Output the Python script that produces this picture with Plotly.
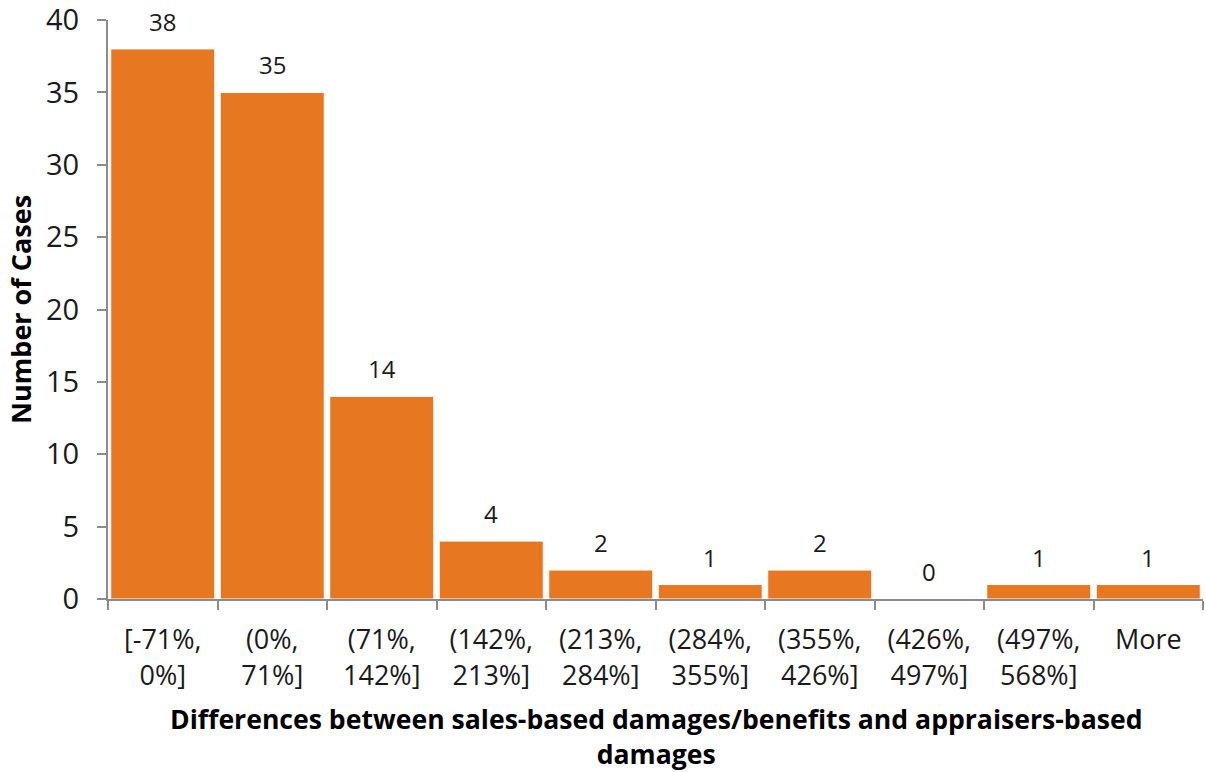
import plotly.graph_objects as go

categories = ["[-71%,<br>0%]", "(0%,<br>71%]", "(71%,<br>142%]", "(142%,<br>213%]", "(213%,<br>284%]",
              "(284%,<br>355%]", "(355%,<br>426%]", "(426%,<br>497%]", "(497%,<br>568%]", "More"]
counts = [38, 35, 14, 4, 2, 1, 2, 0, 1, 1]
y_ticks = [0, 5, 10, 15, 20, 25, 30, 35, 40]

FONT = "Open Sans"
BAR = "#E87722"
AXIS = "#8C8C8C"

fig = go.Figure()
fig.add_trace(go.Bar(
    x=categories, y=counts,
    marker=dict(color=BAR, line=dict(color="white", width=1)),
    hoverinfo="skip",
))

for c, v in zip(categories, counts):
    fig.add_annotation(x=c, y=v, text=str(v), showarrow=False, yanchor="bottom",
                       yshift=9, font=dict(family=FONT, size=24, color="#1a1a1a"))

fig.add_annotation(xref="paper", yref="paper", x=0.5, y=-0.173, yanchor="top",
                   text="<b>Differences between sales-based damages/benefits and appraisers-based<br>damages</b>",
                   showarrow=False, font=dict(family=FONT, size=26.6, color="#000000"))
fig.add_annotation(xref="paper", yref="paper", x=-0.08, y=0.5, xanchor="center", textangle=-90,
                   text="<b>Number of Cases</b>", showarrow=False,
                   font=dict(family=FONT, size=27, color="#000000"))

fig.update_layout(
    width=1206, height=772,
    margin=dict(l=108, r=3, t=20, b=173),
    paper_bgcolor="white", plot_bgcolor="white",
    bargap=0.05,
    showlegend=False,
    font=dict(family=FONT, color="#1a1a1a"),
)
fig.update_xaxes(
    type="category", tickson="boundaries", ticks="outside", ticklen=9, tickcolor=AXIS, tickwidth=2,
    showline=True, linecolor=AXIS, linewidth=2, showgrid=False, automargin=False,
    tickfont=dict(family=FONT, size=27, color="#1a1a1a"), ticklabelstandoff=16,
)
fig.update_yaxes(
    range=[0, 40], tickvals=y_ticks, ticks="outside", ticklen=9, tickcolor=AXIS, tickwidth=2,
    showline=True, linecolor=AXIS, linewidth=2, showgrid=False, zeroline=False, automargin=False,
    tickfont=dict(family=FONT, size=29, color="#1a1a1a"), ticklabelstandoff=12,
    ticklabeloverflow="allow",
)

fig.write_html("out.html")
